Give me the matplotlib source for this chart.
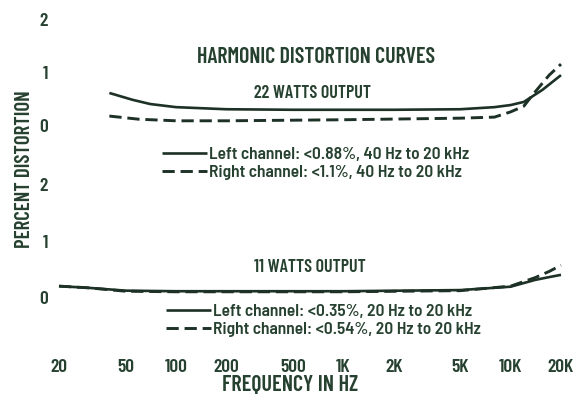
import matplotlib
matplotlib.use("Agg")
import matplotlib.pyplot as plt
from matplotlib import font_manager as fm

# Narrow gothic face for all lettering; fall back to DejaVu at reduced size
_names = {f.name for f in fm.fontManager.ttflist}
if 'Barlow Condensed' in _names:
    plt.rcParams['font.family'] = ['Barlow Condensed', 'DejaVu Sans']
    SCALE = 1.0
else:
    plt.rcParams['font.family'] = ['DejaVu Sans']
    SCALE = 0.72
LEGEND_FAMILY = (['Barlow Semi Condensed', 'DejaVu Sans']
                 if 'Barlow Semi Condensed' in _names else plt.rcParams['font.family'])
plt.rcParams['font.weight'] = 600

INK = '#26412f'
LINE = '#1d3126'

# 22 W output
freq_22_left = [40, 55, 70, 100, 200, 500, 1000, 2000, 5000, 8000, 10000, 12000, 15500, 20000]
dist_22_left = [0.61, 0.48, 0.40, 0.34, 0.30, 0.29, 0.29, 0.29, 0.30, 0.34, 0.38, 0.44, 0.67, 0.95]
freq_22_right = [40, 60, 100, 200, 1000, 5000, 8000, 10000, 12000, 13500, 17000, 20000]
dist_22_right = [0.17, 0.11, 0.08, 0.08, 0.10, 0.13, 0.15, 0.25, 0.36, 0.57, 0.95, 1.16]

# 11 W output
freq_11_left = [20, 30, 50, 100, 1000, 5000, 10000, 14000, 17000, 20000]
dist_11_left = [0.21, 0.18, 0.13, 0.12, 0.12, 0.14, 0.20, 0.32, 0.37, 0.41]
freq_11_right = [20, 30, 50, 100, 1000, 5000, 10000, 14000, 17000, 20000]
dist_11_right = [0.21, 0.18, 0.12, 0.11, 0.11, 0.13, 0.21, 0.36, 0.47, 0.58]

labels_22 = ["Left channel: <0.88%, 40 Hz to 20 kHz",
             "Right channel: <1.1%, 40 Hz to 20 kHz"]
labels_11 = ["Left channel: <0.35%, 20 Hz to 20 kHz",
             "Right channel: <0.54%, 20 Hz to 20 kHz"]

x_ticks = [20, 50, 100, 200, 500, 1000, 2000, 5000, 10000, 20000]
x_ticklabels = ['20', '50', '100', '200', '500', '1K', '2K', '5K', '10K', '20K']
y_ticks = [0, 1, 2]

W, H = 579, 397
fig = plt.figure(figsize=(W / 100, H / 100), dpi=100)
fig.patch.set_facecolor('white')


def px_axes(x0, x1, y_top, y_bot):
    return fig.add_axes([x0 / W, 1 - y_bot / H, (x1 - x0) / W, (y_bot - y_top) / H])


ax_top = px_axes(59, 561, 20, 125)
ax_bot = px_axes(59, 561, 185, 298)

dash = (4.2, 2.0)
for ax, (fl, dl, fr, dr), labels in [
        (ax_top, (freq_22_left, dist_22_left, freq_22_right, dist_22_right), labels_22),
        (ax_bot, (freq_11_left, dist_11_left, freq_11_right, dist_11_right), labels_11)]:
    ax.set_xscale('log')
    ax.set_xlim(20, 20000)
    ax.set_ylim(0, 2)
    ax.plot(fl, dl, color=LINE, lw=1.9, solid_capstyle='butt', clip_on=False,
            label=labels[0])
    ax.plot(fr, dr, color=LINE, lw=2.1, linestyle=(0, dash), clip_on=False,
            label=labels[1])
    for s in ax.spines.values():
        s.set_visible(False)
    ax.set_facecolor('none')
    ax.set_yticks(y_ticks)
    ax.set_yticklabels([str(v) for v in y_ticks])
    ax.tick_params(axis='y', length=0, pad=8, labelsize=14 * SCALE, labelcolor=INK)
    ax.minorticks_off()

ax_top.set_xticks([])
ax_bot.set_xticks(x_ticks)
ax_bot.set_xticklabels(x_ticklabels)
ax_bot.tick_params(axis='x', length=0, pad=44, labelsize=14 * SCALE, labelcolor=INK)
ax_bot.minorticks_off()

leg_kw = dict(loc='upper left', bbox_transform=fig.transFigure, frameon=False,
              borderaxespad=0, borderpad=0, handlelength=2.6, handletextpad=0.1,
              labelspacing=0.15, labelcolor=INK,
              prop=dict(family=LEGEND_FAMILY, weight=600, size=12.5 * SCALE))
ax_top.legend(bbox_to_anchor=(162 / W, 1 - 147 / H), **leg_kw)
ax_bot.legend(bbox_to_anchor=(166 / W, 1 - 304 / H), **leg_kw)

fig.text(316 / W, 1 - 57 / H, 'HARMONIC DISTORTION CURVES', ha='center', va='center',
         fontsize=15.8 * SCALE, color=INK)
fig.text(312 / W, 1 - 93 / H, '22 WATTS OUTPUT', ha='center', va='center',
         fontsize=13 * SCALE, color=INK)
fig.text(310 / W, 1 - 268 / H, '11 WATTS OUTPUT', ha='center', va='center',
         fontsize=13 * SCALE, color=INK)
fig.text(290 / W, 1 - 385 / H, 'FREQUENCY IN HZ', ha='center', va='center',
         fontsize=16 * SCALE, color=INK)
fig.text(25 / W, 1 - 169 / H, 'PERCENT DISTORTION', ha='center', va='center',
         rotation=90, fontsize=15 * SCALE, color=INK)

fig.savefig('out.png', dpi=100, facecolor='white')
